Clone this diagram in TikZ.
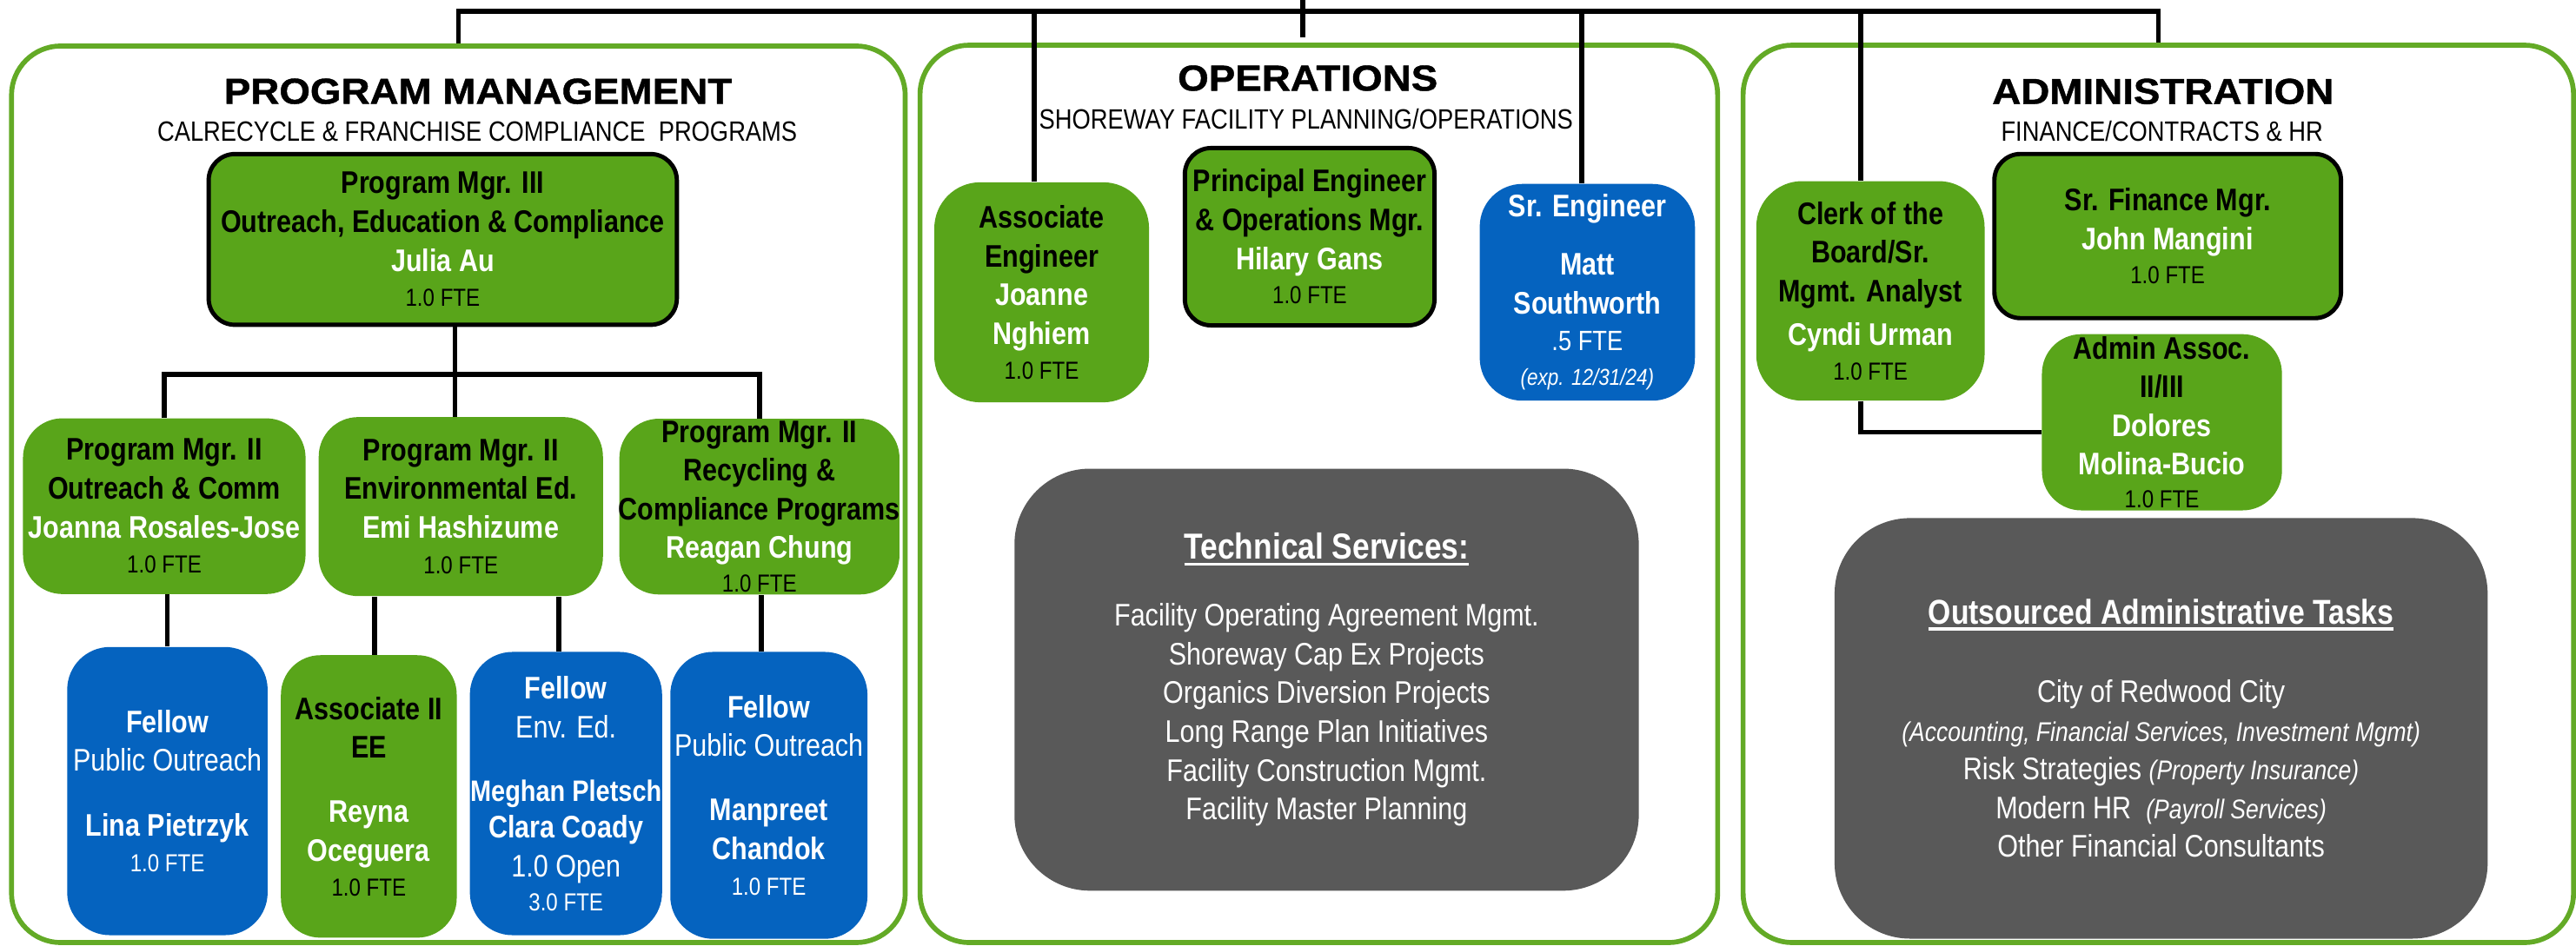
\documentclass[tikz,border=0pt]{standalone}
\usepackage{fontspec}
\setmainfont{Liberation Sans}
% narrow body face and a slightly widened, heavier heading face
\newfontfamily\nf{Liberation Sans}[FakeStretch=0.85]
\newfontfamily\hf{Liberation Sans}[FakeStretch=1.1,FakeBold=1]
\definecolor{pnlgreen}{RGB}{99,170,38}
\definecolor{boxgreen}{RGB}{89,165,26}
\definecolor{boxblue}{RGB}{5,99,191}
\definecolor{boxgray}{RGB}{89,89,89}
% text helpers for the org boxes
\newcommand\rtx[1]{\textbf{#1}}
\newcommand\wnm[1]{\textcolor{white}{\textbf{#1}}}
\newcommand\ftel[1]{{\fontsize{15}{23.6}\selectfont #1}}
\newcommand\hdul[1]{\setbox0=\hbox{#1}\leavevmode\rlap{\vrule height -2pt depth 4pt width \wd0}\box0}
\begin{document}
\begin{tikzpicture}[x=1pt,y=-1pt,
  panel/.style={draw=pnlgreen, line width=3pt, rounded corners=30pt, fill=white, inner sep=0pt},
  gcard/.style={fill=boxgreen, inner sep=0pt, rounded corners=24pt},
  gcardb/.style={fill=boxgreen, draw=black, line width=2.6pt, inner sep=0pt, rounded corners=16pt},
  bcard/.style={fill=boxblue, inner sep=0pt, rounded corners=26pt},
  dcard/.style={fill=boxgray, inner sep=0pt, rounded corners=46pt},
  conn/.style={draw=black, line width=3pt},
  txt/.style={align=center, inner sep=0pt, font=\nf\fontsize{19}{23.6}\selectfont},
  wtxt/.style={txt, text=white},
  ttl/.style={inner sep=0pt, font=\hf\bfseries\fontsize{22}{26}\selectfont},
  sub/.style={inner sep=0pt, font=\nf\fontsize{17}{20}\selectfont}]
\useasboundingbox (0,0) rectangle (1568,576);

% department panels
\node[panel, minimum width=544, minimum height=546] (pm) at (279,301) {};
\node[panel, minimum width=485.5, minimum height=546.5] (ops) at (802.75,300.75) {};
\node[panel, minimum width=505.5, minimum height=546.5] (adm) at (1313.75,300.75) {};

% panel headings
\node[ttl] (pmttl) at (291,55.6) {PROGRAM MANAGEMENT};
\node[sub] (pmsub) at (290.5,80) {CALRECYCLE \& FRANCHISE COMPLIANCE\ \ PROGRAMS};
\node[ttl] (opsttl) at (796,47.6) {OPERATIONS};
\node[sub] (opssub) at (795,72.3) {SHOREWAY FACILITY PLANNING/OPERATIONS};
\node[ttl] (admttl) at (1316.6,55.7) {ADMINISTRATION};
\node[sub] (admsub) at (1316,80) {FINANCE/CONTRACTS \& HR};

% program management boxes
\node[gcardb, minimum width=285, minimum height=104] (pm3) at (269.5,145.8) {};
\node[gcard, minimum width=172, minimum height=107] (pA) at (100,308.25) {};
\node[gcard, minimum width=173, minimum height=109] (pB) at (280.5,308.5) {};
\node[gcard, minimum width=170.5, minimum height=107] (pC) at (462.25,308.5) {};
\node[bcard, minimum width=122, minimum height=175.5] (pD) at (101.9,481.75) {};
\node[gcard, minimum width=107, minimum height=172] (pE) at (224.5,485) {};
\node[bcard, minimum width=117, minimum height=172.5] (pF) at (344.5,483.25) {};
\node[bcard, minimum width=120, minimum height=174.7] (pG) at (468,484.35) {};

% operations boxes
\node[gcard, rounded corners=28pt, minimum width=130.7, minimum height=134] (ae) at (634.05,178) {};
\node[gcardb, minimum width=152, minimum height=108] (pe) at (797.2,144.15) {};
\node[bcard, minimum width=131, minimum height=132] (se) at (966.2,178) {};
\node[dcard, minimum width=380, minimum height=257] (ts) at (807.5,413.9) {};

% administration boxes
\node[gcard, rounded corners=28pt, minimum width=139, minimum height=133.7] (clerk) at (1138.5,177.15) {};
\node[gcardb, minimum width=211, minimum height=100] (sf) at (1319.45,143.75) {};
\node[gcard, minimum width=146.1, minimum height=107.3] (aa) at (1315.95,257.15) {};
\node[dcard, minimum width=397.5, minimum height=256.1] (oa) at (1315.45,443.55) {};

% reporting lines
\coordinate (root) at (793,0);
\coordinate (bus) at (0,7);
\coordinate (pmbus) at (0,228);
\draw[conn] (root) -- ([yshift=3pt]root |- ops.north);
\draw[conn] (pm.north) |- (adm.north |- bus) -- (adm.north);
\draw[conn] ([xshift=-4.5pt]ae.north) -- ([xshift=-4.5pt]ae.north |- bus);
\draw[conn] ([xshift=-3.5pt]se.north) -- ([xshift=-3.5pt]se.north |- bus);
\draw[conn] ([xshift=-6pt]clerk.north) -- ([xshift=-6pt]clerk.north |- bus);
\draw[conn] ([xshift=-6pt]clerk.south) |- ([yshift=-6pt]aa.west);
\draw[conn] (pA.north) |- (pC.north |- pmbus) -- (pC.north);
\draw[conn] ([xshift=-3.5pt]pB.north) -- ([xshift=-3.5pt]pB.north |- pm3.south);
\draw[conn] (pD.north) -- (pD.north |- pA.south);
\draw[conn] ([xshift=3.5pt]pE.north) -- ([xshift=3.5pt]pE.north |- pB.south);
\draw[conn] ([xshift=-4.5pt]pF.north) -- ([xshift=-4.5pt]pF.north |- pB.south);
\draw[conn] ([xshift=-4.5pt]pG.north) -- ([xshift=-4.5pt]pG.north |- pC.south);

% box texts
\node[txt] (pm3t) at (pm3) {\rtx{Program Mgr. III}\\ \rtx{Outreach, Education \& Compliance}\\ \wnm{Julia Au}\\[-2pt] \ftel{1.0 FTE}};
\node[txt] (pAt) at (pA) {\rtx{Program Mgr. II}\\ \rtx{Outreach \& Comm}\\ \wnm{Joanna Rosales-Jose}\\[-2pt] \ftel{1.0 FTE}};
\node[txt] (pBt) at (pB) {\rtx{Program Mgr. II}\\ \rtx{Environmental Ed.}\\ \wnm{Emi Hashizume}\\[-2pt] \ftel{1.0 FTE}};
\node[txt] (pCt) at (pC) {\rtx{Program Mgr. II}\\ \rtx{Recycling \&}\\ \rtx{Compliance Programs}\\ \wnm{Reagan Chung}\\[-3pt] \ftel{1.0 FTE}};
\node[wtxt] (pDt) at (pD) {\textbf{Fellow}\\ Public Outreach\\[16pt] \textbf{Lina Pietrzyk}\\[-1.8pt] \ftel{1.0 FTE}};
\node[txt] (pEt) at (pE) {\rtx{Associate II}\\ \rtx{EE}\\[15.5pt] \wnm{Reyna}\\ \wnm{Oceguera}\\[-2.6pt] \ftel{1.0 FTE}};
\node[wtxt] (pFt) at (pF) {\textbf{Fellow}\\ Env. Ed.\\[15.5pt] {\fontsize{18}{23.6}\selectfont\textbf{Meghan Pletsch}}\\[-1.6pt] \textbf{Clara Coady}\\ 1.0 Open\\[-2.9pt] \ftel{3.0 FTE}};
\node[wtxt] (pGt) at (pG) {\textbf{Fellow}\\ Public Outreach\\[15.5pt] \textbf{Manpreet}\\ \textbf{Chandok}\\[-1.6pt] \ftel{1.0 FTE}};
\node[txt] (aet) at (ae) {\rtx{Associate}\\ \rtx{Engineer}\\ \wnm{Joanne}\\ \wnm{Nghiem}\\[-2.6pt] \ftel{1.0 FTE}};
\node[txt] (pet) at (pe) {\rtx{Principal Engineer}\\ \rtx{\& Operations Mgr.}\\ \wnm{Hilary Gans}\\[-2.6pt] \ftel{1.0 FTE}};
\node[wtxt] (sett) at (se) {\textbf{Sr. Engineer}\\[12pt] \textbf{Matt}\\ \textbf{Southworth}\\[-1.6pt] {\fontsize{17}{23.6}\selectfont .5 FTE}\\[-2pt] {\fontsize{14}{23.6}\selectfont\itshape (exp. 12/31/24)}};
\node[wtxt] (tst) at (ts) {{\fontsize{22}{23.6}\selectfont\bfseries\hdul{Technical Services:}}\\[17pt] Facility Operating Agreement Mgmt.\\ Shoreway Cap Ex Projects\\ Organics Diversion Projects\\ Long Range Plan Initiatives\\ Facility Construction Mgmt.\\ Facility Master Planning};
\node[txt] (clerkt) at (clerk) {\rtx{Clerk of the}\\ \rtx{Board/Sr.}\\ \rtx{Mgmt. Analyst}\\[3pt] \wnm{Cyndi Urman}\\[-2.6pt] \ftel{1.0 FTE}};
\node[txt] (sft) at (sf) {\rtx{Sr. Finance Mgr.}\\ \wnm{John Mangini}\\[-2.6pt] \ftel{1.0 FTE}};
\node[txt] (aat) at (aa) {\rtx{Admin Assoc.}\\ \rtx{II/III}\\ \wnm{Dolores}\\ \wnm{Molina-Bucio}\\[-3.5pt] \ftel{1.0 FTE}};
\node[wtxt] (oat) at (oa) {{\fontsize{21}{23.6}\selectfont\bfseries\hdul{Outsourced Administrative Tasks}}\\[24pt] City of Redwood City\\ {\fontsize{16.5}{23.6}\selectfont\itshape (Accounting, Financial Services, Investment Mgmt)}\\ Risk Strategies {\fontsize{16.5}{23.6}\selectfont\itshape (Property Insurance)}\\ Modern HR\ \ {\fontsize{16.5}{23.6}\selectfont\itshape (Payroll Services)}\\ Other Financial Consultants};
\end{tikzpicture}
\end{document}
